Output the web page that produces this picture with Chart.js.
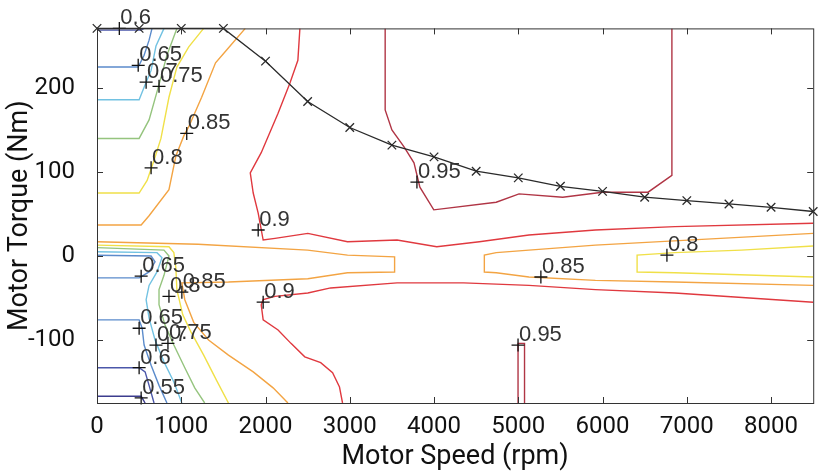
<!DOCTYPE html>
<html>
<head>
<meta charset="utf-8">
<script src="https://cdn.jsdelivr.net/npm/chart.js@4/dist/chart.umd.min.js"></script>
<style>
  html, body { margin: 0; padding: 0; background: #fff; }
  #wrap { width: 821px; height: 474px; }
</style>
</head>
<body>
<div id="wrap"><canvas id="effMap" width="821" height="474"></canvas></div>
<script>
// axis ticks
const speedTicks = [0, 1000, 2000, 3000, 4000, 5000, 6000, 7000, 8000];
const torqueTicks = [-100, 0, 100, 200];

// max torque envelope (rpm / Nm)
const maxTorqueSpeed = [0, 500, 1000, 1500, 2000, 2500, 3000, 3500, 4000, 4500, 5000, 5500, 6000, 6500, 7000, 7500, 8000, 8500];
const maxTorque = [271, 271, 271, 271, 232, 184, 153, 132, 118, 101, 93, 83, 77, 70, 66, 62, 58, 53];

// efficiency contour lines, [rpm, Nm] pairs
const c55_low = [[0,-167],[524,-167],[571,-175]];
const c60_top = [[0,269],[520,269],[560,271]];
const c60_low = [[0,-133],[500,-133],[571,-138],[618,-154],[677,-175]];
const c65_top = [[0,225],[489,225],[559,239],[618,257],[653,271]];
const c65_mid = [[0,1],[642,0],[689,-7],[618,-19],[500,-26],[0,-26]];
const c65_low = [[0,-76],[500,-76],[536,-86],[559,-106],[642,-130],[736,-154],[830,-175]];
const c70_top = [[0,186],[500,186],[559,201],[642,221],[700,250],[795,271]];
const c70_low = [[0,5],[712,4],[771,-2],[712,-19],[618,-35],[583,-52],[618,-74],[689,-100],[795,-126],[912,-150],[1007,-175]];
const c75_top = [[0,140],[500,140],[618,162],[736,204],[830,239],[948,271]];
const c75_low = [[0,10],[795,7],[854,0],[795,-23],[736,-40],[736,-58],[807,-82],[912,-106],[1042,-133],[1160,-157],[1278,-175]];
const c80_top = [[0,75],[500,75],[595,90],[677,114],[759,140],[854,189],[948,225],[1089,249],[1266,271]];
const c80_low = [[0,13],[854,11],[912,4],[936,-14],[948,-40],[1018,-70],[1113,-90],[1266,-118],[1419,-148],[1560,-175]];
const c80_right = [[8500,12],[7647,7],[6858,4],[6410,1],[6410,-19],[6858,-20],[8500,-25]];
const c85_top = [[0,37],[524,37],[618,48],[854,79],[936,119],[1030,143],[1089,154],[1242,189],[1407,230],[1536,245],[1760,271]];
const c85_left = [[0,17],[1200,14],[2500,7],[2973,1],[3532,-1],[3532,-19],[2973,-20],[2502,-27],[1560,-31],[1007,-32],[1042,-52],[1148,-79],[1324,-100],[1560,-118],[1854,-138],[2090,-157],[2266,-175]];
const c85_right = [[8500,27],[5915,13],[5126,7],[4738,4],[4597,1],[4597,-19],[4738,-20],[5126,-25],[5915,-29],[6858,-31],[8500,-35]];
const c90_upper = [[2408,271],[2384,233],[2290,206],[2149,170],[1949,123],[1819,99],[1854,75],[1913,51],[1972,19],[2113,21],[2502,27],[2973,17],[3561,19],[4032,11],[4538,17],[5126,25],[5915,31],[6858,35],[8500,39]];
const c90_lower = [[2914,-175],[2878,-156],[2796,-139],[2655,-127],[2466,-120],[2302,-104],[2149,-88],[1972,-76],[1949,-58],[1972,-52],[2113,-48],[2502,-44],[2773,-38],[3561,-32],[4350,-32],[5126,-35],[5915,-40],[6858,-44],[8500,-55]];
const c95_upper = [[3420,271],[3420,174],[3500,150],[3644,130],[3762,111],[3832,82],[3997,55],[4738,64],[5009,74],[5527,70],[5998,76],[6540,76],[6823,96],[6823,271]];
const c95_lower = [[4997,-175],[4997,-104],[5074,-104],[5074,-175]];

// contour labels (clabel style "+" with text)
const labelText = ['0.6','0.65','0.7','0.75','0.85','0.8','0.9','0.95','0.8','0.85','0.65','0.8','0.85','0.9','0.65','0.7','0.75','0.6','0.55','0.95'];
const labelSpeed = [265, 489, 583, 736, 1065, 642, 1913, 3797, 6764, 5268, 524, 854, 1007, 1972, 500, 700, 842, 500, 524, 4997];
const labelTorque = [271, 227, 207, 202, 146, 105, 31, 88, 1, -25, -24, -48, -43, -55, -86, -106, -104, -133, -169, -106];

const levelColor = {
  0.55: '#3c3c8e',
  0.6: '#4b57aa',
  0.65: '#5b8bcb',
  0.7: '#72c2e2',
  0.75: '#95c47e',
  0.8: '#f0e048',
  0.85: '#f3a443',
  0.9: '#e0393f',
  0.95: '#b03545'
};

const contours = [
  [0.55, c55_low], [0.6, c60_top], [0.6, c60_low],
  [0.65, c65_top], [0.65, c65_mid], [0.65, c65_low],
  [0.7, c70_top], [0.7, c70_low], [0.75, c75_top], [0.75, c75_low],
  [0.8, c80_top], [0.8, c80_low], [0.8, c80_right],
  [0.85, c85_top], [0.85, c85_left], [0.85, c85_right],
  [0.9, c90_upper], [0.9, c90_lower], [0.95, c95_upper], [0.95, c95_lower]
];

const datasets = contours.map(c => ({
  data: c[1].map(p => ({ x: p[0], y: p[1] })),
  showLine: true,
  borderColor: levelColor[c[0]],
  borderWidth: 1.4,
  pointRadius: 0,
  tension: 0,
  order: 3
}));

datasets.push({
  data: maxTorqueSpeed.map((s, i) => ({ x: s, y: maxTorque[i] })),
  showLine: true,
  borderColor: '#2a2a2a',
  borderWidth: 1.3,
  pointStyle: 'crossRot',
  pointRadius: 6,
  pointBorderColor: '#2a2a2a',
  pointBorderWidth: 1.3,
  clip: false,
  order: 1
});

datasets.push({
  data: labelSpeed.map((s, i) => ({ x: s, y: labelTorque[i] })),
  showLine: false,
  pointStyle: 'cross',
  pointRadius: 6.5,
  pointBorderColor: '#111',
  pointBorderWidth: 1.3,
  clip: false,
  order: 0
});

const labelDs = datasets.length - 1;

const framePlugin = {
  id: 'frame',
  afterDatasetsDraw(chart) {
    const { ctx, chartArea: a, scales } = chart;
    ctx.save();
    ctx.strokeStyle = '#333';
    ctx.lineWidth = 1;
    ctx.strokeRect(a.left + 0.5, a.top + 0.5, a.right - a.left, a.bottom - a.top);
    ctx.beginPath();
    speedTicks.forEach(v => {
      const x = Math.round(scales.x.getPixelForValue(v)) + 0.5;
      ctx.moveTo(x, a.bottom); ctx.lineTo(x, a.bottom - 6);
      ctx.moveTo(x, a.top); ctx.lineTo(x, a.top + 6);
    });
    torqueTicks.forEach(v => {
      const y = Math.round(scales.y.getPixelForValue(v)) + 0.5;
      ctx.moveTo(a.left, y); ctx.lineTo(a.left + 6, y);
      ctx.moveTo(a.right, y); ctx.lineTo(a.right - 6, y);
    });
    ctx.stroke();

    // contour label text
    ctx.fillStyle = '#333';
    ctx.font = '22px "Liberation Sans", Arial, sans-serif';
    ctx.textAlign = 'left';
    ctx.textBaseline = 'alphabetic';
    const pts = chart.getDatasetMeta(labelDs).data;
    pts.forEach((p, i) => {
      ctx.fillText(labelText[i], p.x + 1, p.y - 4);
    });
    ctx.restore();
  }
};

const tickFont = { family: 'Roboto', size: 24 };
const titleFont = { family: 'Roboto', size: 27 };

new Chart(document.getElementById('effMap'), {
  type: 'scatter',
  data: { datasets },
  options: {
    responsive: false,
    animation: false,
    devicePixelRatio: 1,
    layout: { padding: { top: 28, right: 2, left: 0, bottom: 0 } },
    plugins: { legend: { display: false }, tooltip: { enabled: false } },
    scales: {
      x: {
        type: 'linear',
        min: 0,
        max: 8500,
        afterBuildTicks: s => { s.ticks = speedTicks.map(v => ({ value: v })); },
        afterFit: s => { s.height = 71; },
        grid: { display: false },
        border: { display: false },
        ticks: { color: '#111', font: tickFont, padding: 2, maxRotation: 0, autoSkip: false, callback: v => String(v) },
        title: { display: true, text: 'Motor Speed (rpm)', color: '#111', font: titleFont, padding: { top: 0, bottom: 1 } }
      },
      y: {
        type: 'linear',
        min: -175,
        max: 271,
        afterBuildTicks: s => { s.ticks = torqueTicks.map(v => ({ value: v })); },
        afterFit: s => { s.width = 97; },
        grid: { display: false },
        border: { display: false },
        ticks: { color: '#111', font: tickFont, padding: 14, autoSkip: false, callback: v => String(v) },
        title: { display: true, text: 'Motor Torque (Nm)', color: '#111', font: titleFont, padding: { top: 4, bottom: 0 } }
      }
    }
  },
  plugins: [framePlugin]
});
</script>
</body>
</html>
